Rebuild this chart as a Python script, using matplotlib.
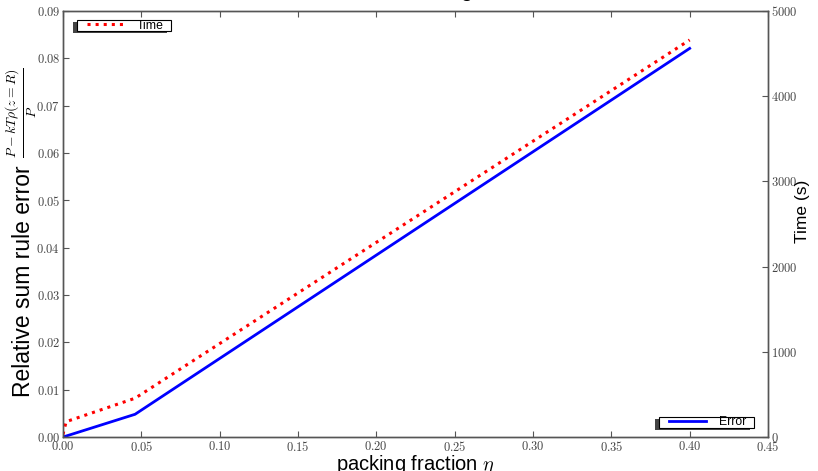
import matplotlib
matplotlib.use('Agg')
import matplotlib.pyplot as plt
from matplotlib.ticker import FuncFormatter, MultipleLocator
from matplotlib.patches import Rectangle
from matplotlib.transforms import IdentityTransform
from matplotlib.legend_handler import HandlerLine2D

# packing fraction and measured values
eta = [0.0, 0.002, 0.046, 0.40]
error = [0.0, 0.0002, 0.0048, 0.0821]
time_s = [30, 180, 455, 4660]

plt.rcParams['font.family'] = ['Liberation Sans', 'DejaVu Sans']
plt.rcParams['mathtext.fontset'] = 'cm'

axis_grey = '#555555'

fig = plt.figure(figsize=(8.18, 4.71), dpi=100)
ax1 = fig.add_axes([63 / 818, 1 - 437 / 471, (768 - 63) / 818, (437 - 11) / 471])
ax2 = ax1.twinx()

l_err, = ax1.plot(eta, error, color='blue', lw=2.0, label='Error')
l_time, = ax2.plot(eta, time_s, color='red', lw=2.2, ls=':', label='Time')

ax1.set_xlim(0, 0.45)
ax1.set_ylim(0, 0.09)
ax2.set_ylim(0, 5000)
ax1.xaxis.set_major_locator(MultipleLocator(0.05))
ax1.yaxis.set_major_locator(MultipleLocator(0.01))
ax2.yaxis.set_major_locator(MultipleLocator(1000))

ax1.xaxis.set_major_formatter(FuncFormatter(lambda v, p: r'$%.2f$' % v))
ax1.yaxis.set_major_formatter(FuncFormatter(lambda v, p: r'$%.2f$' % v))
ax2.yaxis.set_major_formatter(FuncFormatter(lambda v, p: r'$%d$' % round(v)))

ax1.tick_params(axis='x', direction='in', top=True, length=4, width=0.8,
                color=axis_grey, labelcolor='#444444', labelsize=9, pad=2)
ax1.tick_params(axis='y', direction='in', right=False, length=4, width=0.8,
                color=axis_grey, labelcolor='#444444', labelsize=9, pad=2)
ax2.tick_params(axis='y', direction='in', length=4, width=0.8,
                color=axis_grey, labelcolor='#444444', labelsize=9, pad=2)
for ax in (ax1, ax2):
    for s in ax.spines.values():
        s.set_color(axis_grey)
        s.set_linewidth(1.0)

ax1.set_xlabel(r'packing fraction $\eta$', fontsize=14.5, labelpad=0)
ax2.set_ylabel('Time (s)', fontsize=12.5)
ax2.yaxis.set_label_coords(1.038, 0.53)
ax1.set_title('Error and timing test', fontsize=16, pad=11)

# left label: words and the fraction as two rotated texts
fig.text(24 / 818, 1 - 281 / 471, 'Relative sum rule error', rotation=90,
         fontsize=16.5, ha='center', va='center')
fig.text(21 / 818, 1 - 113 / 471, r'$\frac{P-kT\rho(z=R)}{P}$', rotation=90,
         fontsize=14, ha='center', va='center')

leg_kw = dict(fontsize=8.8, handlelength=3.0, borderpad=0.05, handletextpad=1.1,
              borderaxespad=0, frameon=False,
              handler_map={plt.Line2D: HandlerLine2D()})
leg1 = ax2.legend(handles=[l_err], loc='lower right',
                  bbox_to_anchor=(0.970, 0.019), **leg_kw)
ax2.add_artist(leg1)
leg2 = ax2.legend(handles=[l_time], loc='upper left',
                  bbox_to_anchor=(0.033, 0.981), **leg_kw)

# frame and shadow (offset to the lower left) drawn by hand
fig.canvas.draw()
for lg in (leg1, leg2):
    bb = lg.get_window_extent()
    x0, x1 = bb.x0 - 9, bb.x1 + 7
    y0, y1 = bb.y0 + 1, bb.y1 - 1
    ax2.add_artist(Rectangle((x0 - 4, y0 - 2), x1 - x0, y1 - y0,
                             transform=IdentityTransform(), facecolor='#444444',
                             edgecolor='none', zorder=4.4, clip_on=False))
    ax2.add_artist(Rectangle((x0, y0), x1 - x0, y1 - y0,
                             transform=IdentityTransform(), facecolor='white',
                             edgecolor='black', lw=0.8, zorder=4.5, clip_on=False))

fig.savefig('out.png', dpi=100)
